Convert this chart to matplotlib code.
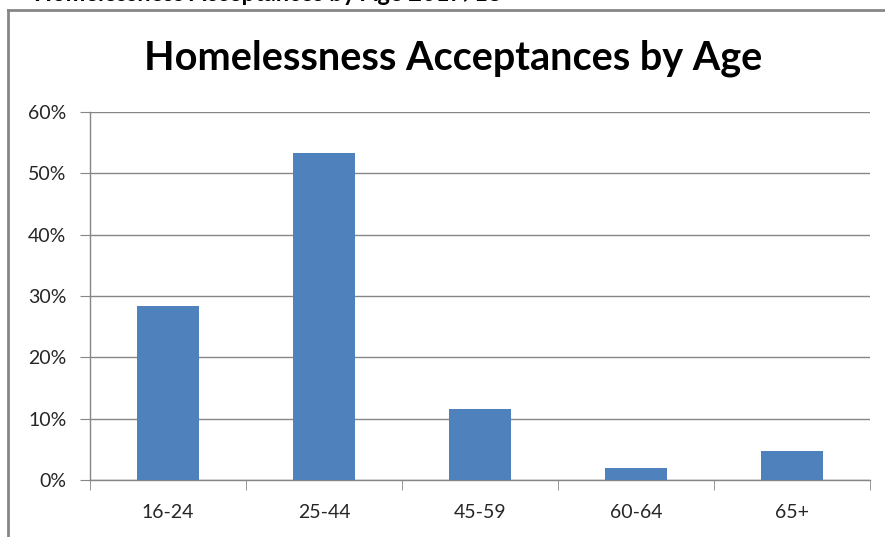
import matplotlib.pyplot as plt
from matplotlib.ticker import FuncFormatter, FixedLocator

# data
ages = ["16-24", "25-44", "45-59", "60-64", "65+"]
shares = [28.4, 53.3, 11.6, 1.9, 4.8]  # percent
yticks = [0, 10, 20, 30, 40, 50, 60]

grey = "#868686"
bar_col = "#4F81BD"
txt_col = "#262626"

plt.rcParams['font.family'] = ['Lato', 'DejaVu Sans']

fig = plt.figure(figsize=(8.85, 5.37), dpi=100)
fig.patch.set_facecolor("white")

# caption of the page above, cut off by the screenshot
fig.text(34 / 885, 1 - 1 / 537, "Homelessness Acceptances by Age 2017/18",
         fontsize=17, fontweight="bold", color="black", va="baseline", ha="left")

# chart frame (only left and top edges visible)
fig.add_artist(plt.Line2D([8 / 885, 8 / 885], [0, 1 - 10 / 537], color=grey, lw=2,
                          transform=fig.transFigure))
fig.add_artist(plt.Line2D([8 / 885, 1], [1 - 10 / 537, 1 - 10 / 537], color=grey, lw=2,
                          transform=fig.transFigure))

ax = fig.add_axes([90 / 885, 1 - 480 / 537, 780 / 885, 368 / 537])
x = range(len(ages))
ax.bar(x, shares, width=0.4, color=bar_col, zorder=3)

ax.set_xlim(-0.5, len(ages) - 0.5)
ax.set_ylim(0, 60)
ax.set_yticks(yticks)
ax.yaxis.set_major_formatter(FuncFormatter(lambda v, p: f"{v:.0f}%"))
ax.grid(axis="y", color=grey, lw=1, zorder=0)

ax.set_xticks(list(x))
ax.set_xticklabels(ages)
ax.xaxis.set_minor_locator(FixedLocator([i - 0.5 for i in range(len(ages) + 1)]))
ax.tick_params(axis="x", which="major", length=0, pad=17, labelsize=14, labelcolor=txt_col)
ax.tick_params(axis="x", which="minor", length=7, color=grey, direction="out")
ax.tick_params(axis="y", length=7, color=grey, pad=10, labelsize=14, labelcolor=txt_col)

for s in ["top", "right"]:
    ax.spines[s].set_visible(False)
for s in ["left", "bottom"]:
    ax.spines[s].set_color(grey)
    ax.spines[s].set_linewidth(1)

fig.text(453 / 885, 1 - 58 / 537, "Homelessness Acceptances by Age", fontsize=28.5,
         fontweight="bold", color="black", ha="center", va="center")

fig.savefig("out.png", dpi=100)
